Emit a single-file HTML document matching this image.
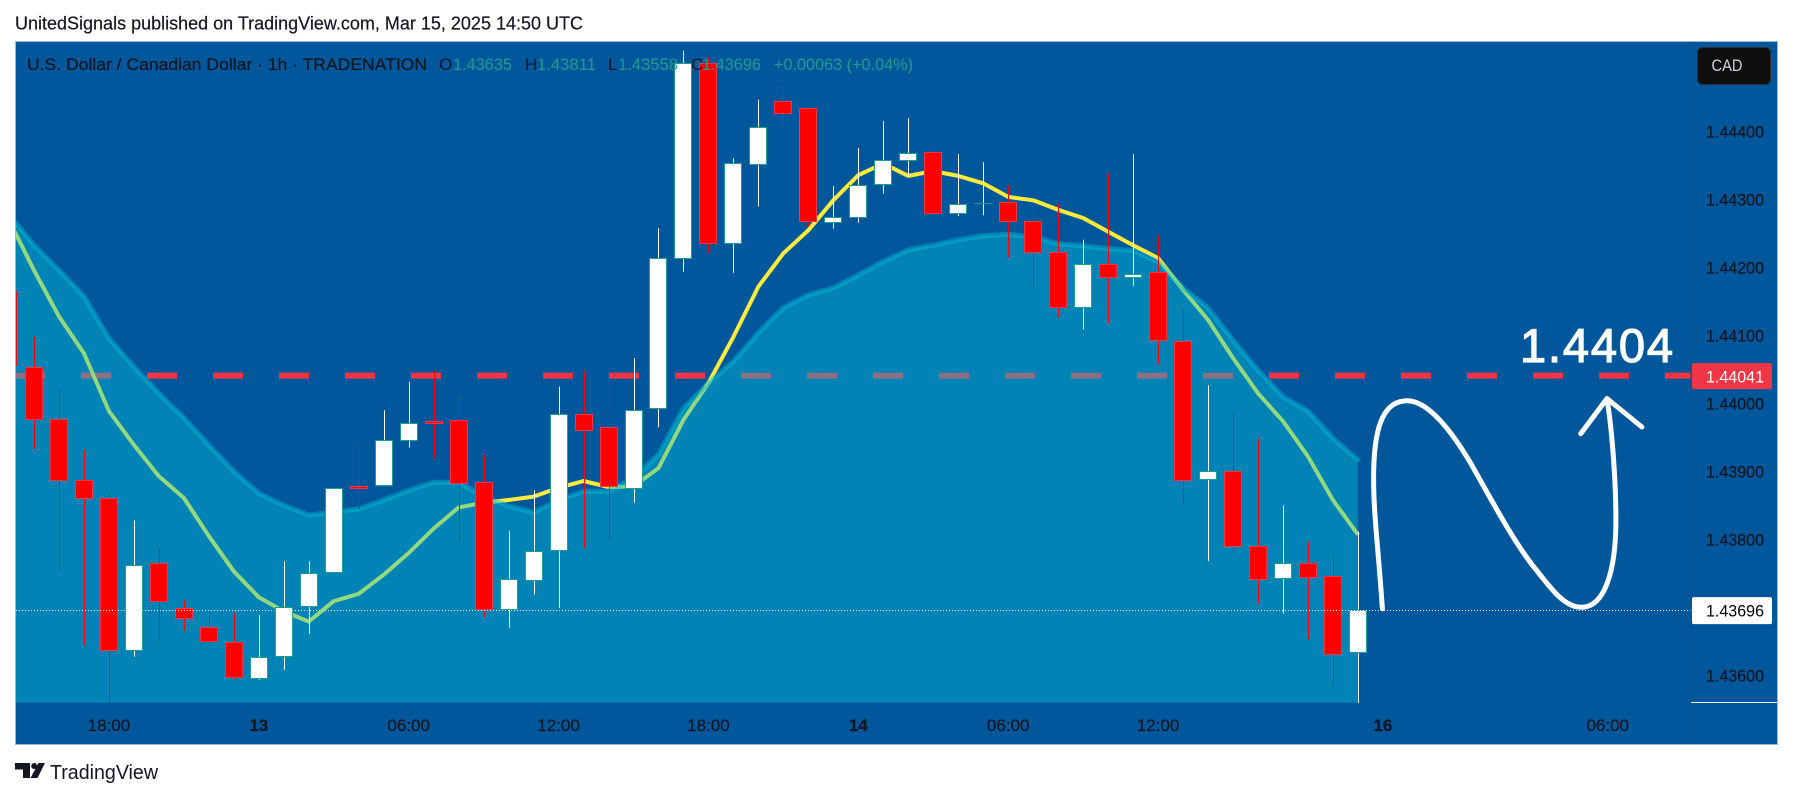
<!DOCTYPE html>
<html lang="en">
<head>
<meta charset="utf-8">
<title>USD/CAD 1h chart</title>
<style>
html,body{margin:0;padding:0;background:#fff;width:1793px;height:798px;overflow:hidden}
svg{display:block}
text{font-family:"Liberation Sans",sans-serif}
</style>
</head>
<body>
<svg id="chart" xmlns="http://www.w3.org/2000/svg" width="1793" height="798" viewBox="0 0 1793 798">
  <defs>
    <clipPath id="plot-clip"><rect x="16" y="42" width="1675" height="661"></rect></clipPath>
  </defs>
  <text x="15" y="29.5" font-size="18" fill="#131722" stroke="#131722" stroke-width="0.2" textLength="568" lengthAdjust="spacingAndGlyphs">UnitedSignals published on TradingView.com, Mar 15, 2025 14:50 UTC</text>
  <rect x="15.5" y="41.5" width="1762" height="703" fill="#01579b" stroke="#9db7d3" stroke-width="1"></rect>
  <g id="plot-under" clip-path="url(#plot-clip)"></g>
  <g id="candles" clip-path="url(#plot-clip)"></g>
  <g id="overlays"></g>
  <g fill="none" stroke="#ffffff" stroke-width="5" stroke-linecap="round" stroke-linejoin="round">
    <path d="M1382.4,608.7 C1378,545 1373.6,515 1373.6,478 C1373.6,430 1382,400.7 1407.3,400.7 C1430,400.7 1455,437 1470,462 C1490,497 1515,545 1537.4,571.3 C1552,590 1565,607.3 1581.4,607.3 C1605,607.3 1615.9,570 1615.9,520 C1615.9,480 1612,430 1607.1,399.7"></path>
    <path d="M1580.7,433.7 L1607,398.5 L1641.9,427"></path>
  </g>
  <text x="1520" y="362" font-size="47" fill="#ffffff" stroke="#ffffff" stroke-width="1.2" textLength="153" lengthAdjust="spacing">1.4404</text>
  <line x1="1691" y1="42" x2="1691" y2="744" stroke="#02508f" stroke-width="1"></line>
  <line x1="1691" y1="702.5" x2="1777" y2="702.5" stroke="#ffffff" stroke-width="1"></line>
  <g id="price-axis"></g>
  <g id="time-axis"></g>
  <g font-size="17">
    <text x="27" y="70" fill="#131722" stroke="#131722" stroke-width="0.25" textLength="400" lengthAdjust="spacingAndGlyphs">U.S. Dollar / Canadian Dollar · 1h · TRADENATION</text>
    <text x="439" y="70" fill="#131722">O</text>
    <text x="453" y="70" fill="#1f9d8f" textLength="59" lengthAdjust="spacingAndGlyphs">1.43635</text>
    <text x="525" y="70" fill="#131722">H</text>
    <text x="537" y="70" fill="#1f9d8f" textLength="59" lengthAdjust="spacingAndGlyphs">1.43811</text>
    <text x="608" y="70" fill="#131722">L</text>
    <text x="618" y="70" fill="#1f9d8f" textLength="60" lengthAdjust="spacingAndGlyphs">1.43558</text>
    <text x="691" y="70" fill="#131722">C</text>
    <text x="702" y="70" fill="#1f9d8f" textLength="59" lengthAdjust="spacingAndGlyphs">1.43696</text>
    <text x="774" y="70" fill="#1f9d8f" textLength="139" lengthAdjust="spacingAndGlyphs">+0.00063 (+0.04%)</text>
  </g>
  <g>
    <rect x="1697.5" y="47.5" width="73" height="37" rx="5" fill="#0f0f0f" stroke="#2a2e39" stroke-width="1"></rect>
    <text x="1711.5" y="71" font-size="17" fill="#d1d4dc" textLength="31" lengthAdjust="spacingAndGlyphs">CAD</text>
  </g>
  <g>
    <path fill="#131722" d="M15,763 H30 V778 H23 V769.5 H15 Z M38.5,763 H45 L37.5,778 H30.5 Z"></path>
    <circle cx="34.2" cy="766" r="3" fill="#131722"></circle>
    <text x="50" y="779" font-size="20" fill="#131722" textLength="108" lengthAdjust="spacingAndGlyphs">TradingView</text>
  </g>
</svg>
<script>
const candleOpen = [1.44165,1.44054,1.43977,1.43887,1.43861,1.43637,1.43765,1.43699,1.43671,1.43649,1.43596,1.43629,1.43702,1.43752,1.43878,1.43880,1.43947,1.43974,1.43975,1.43884,1.43697,1.43740,1.43784,1.43984,1.43965,1.43876,1.43993,1.44214,1.44501,1.44236,1.44353,1.44445,1.44435,1.44267,1.44274,1.44323,1.44359,1.44370,1.44281,1.44295,1.44296,1.44268,1.44223,1.44142,1.44205,1.44186,1.44193,1.44092,1.43889,1.43900,1.43790,1.43743,1.43766,1.43746,1.43635];
const candleHigh = [1.44165,1.44098,1.44022,1.43932,1.43869,1.43828,1.43787,1.43711,1.43687,1.43692,1.43689,1.43768,1.43768,1.43875,1.43937,1.43990,1.44032,1.44048,1.44013,1.43924,1.43812,1.43872,1.44025,1.44048,1.44035,1.44067,1.44258,1.44519,1.44509,1.44361,1.44447,1.44471,1.44435,1.44320,1.44376,1.44416,1.44420,1.44373,1.44367,1.44355,1.44321,1.44290,1.44294,1.44241,1.44339,1.44367,1.44247,1.44138,1.44027,1.43987,1.43948,1.43850,1.43797,1.43779,1.43811];
const candleLow = [1.44057,1.43933,1.43755,1.43644,1.43558,1.43627,1.43650,1.43665,1.43644,1.43594,1.43593,1.43608,1.43661,1.43752,1.43844,1.43880,1.43935,1.43920,1.43797,1.43686,1.43670,1.43719,1.43699,1.43787,1.43800,1.43854,1.43965,1.44194,1.44222,1.44192,1.44290,1.44410,1.44260,1.44257,1.44266,1.44309,1.44334,1.44277,1.44276,1.44277,1.44215,1.44173,1.44127,1.44109,1.44118,1.44173,1.44057,1.43853,1.43768,1.43777,1.43705,1.43691,1.43653,1.43584,1.43558];
const candleClose = [1.44057,1.43977,1.43887,1.43861,1.43637,1.43763,1.43709,1.43685,1.43650,1.43597,1.43627,1.43701,1.43751,1.43875,1.43876,1.43947,1.43972,1.43972,1.43883,1.43698,1.43741,1.43783,1.43984,1.43961,1.43878,1.43991,1.44214,1.44501,1.44236,1.44354,1.44407,1.44427,1.44268,1.44275,1.44322,1.44359,1.44369,1.44280,1.44294,1.44295,1.44268,1.44223,1.44142,1.44206,1.44186,1.44191,1.44093,1.43888,1.43900,1.43790,1.43741,1.43766,1.43744,1.43632,1.43696];
const emaFast = [1.44270,1.44196,1.44128,1.44074,1.43989,1.43939,1.43893,1.43861,1.43805,1.43753,1.43715,1.43694,1.43679,1.43709,1.43720,1.43748,1.43780,1.43816,1.43847,1.43854,1.43858,1.43863,1.43876,1.43886,1.43877,1.43878,1.43905,1.43976,1.44030,1.44098,1.44172,1.44221,1.44255,1.44299,1.44336,1.44353,1.44335,1.44342,1.44335,1.44324,1.44304,1.44299,1.44285,1.44273,1.44253,1.44233,1.44214,1.44167,1.44123,1.44067,1.44015,1.43974,1.43922,1.43858,1.43807];
const emaSlow = [1.44278,1.44233,1.44196,1.44158,1.44096,1.44054,1.44015,1.43979,1.43939,1.43900,1.43868,1.43850,1.43836,1.43840,1.43845,1.43858,1.43872,1.43884,1.43884,1.43863,1.43849,1.43840,1.43858,1.43871,1.43871,1.43890,1.43925,1.43993,1.44030,1.44062,1.44104,1.44141,1.44160,1.44170,1.44189,1.44209,1.44226,1.44233,1.44241,1.44247,1.44249,1.44245,1.44235,1.44232,1.44228,1.44225,1.44209,1.44170,1.44141,1.44093,1.44049,1.44010,1.43989,1.43949,1.43917];
const priceTicks = [1.444,1.443,1.442,1.441,1.44,1.439,1.438,1.437,1.436];
const alertPrice = 1.44041;
const lastPrice = 1.43696;
const timeTickLabels = ["18:00","13","06:00","12:00","18:00","14","06:00","12:00","16","06:00"];
const timeTickBars = [4,10,16,22,28,34,40,46,55,64];
const boldTimeLabels = ["13","14","16"];

const NS = "http://www.w3.org/2000/svg";
function xScale(i){ return 9 + 24.98 * i; }
function yScale(p){ return 131.7 + (1.444 - p) * 67950; }
function make(tag, parent, attrs){
  const el = document.createElementNS(NS, tag);
  for (const k in attrs) el.setAttribute(k, attrs[k]);
  parent.appendChild(el);
  return el;
}
function linePath(series){
  return series.map(function(p, i){ return (i ? "L" : "M") + xScale(i).toFixed(1) + "," + yScale(p).toFixed(1); }).join(" ");
}

const under = document.getElementById("plot-under");
const plotBottom = 702.7;

const alertLine = make("line", under, {x1:15, x2:1691, y1:yScale(alertPrice), y2:yScale(alertPrice), stroke:"#f23645", "stroke-width":6, "stroke-dasharray":"30 36"});



const fastLine = make("path", under, {d:linePath(emaFast), fill:"none", stroke:"#ffeb3b", "stroke-width":4, "stroke-linejoin":"round"});



const lastIdx = emaSlow.length - 1;
const slowArea = make("path", under, {d:linePath(emaSlow) + " L" + xScale(lastIdx).toFixed(1) + "," + plotBottom + " L" + xScale(0).toFixed(1) + "," + plotBottom + " Z", fill:"rgb(3,190,215)", "fill-opacity":0.433, stroke:"none"});



const slowLine = make("path", under, {d:linePath(emaSlow), fill:"none", stroke:"rgb(3,190,215)", "stroke-opacity":0.45, "stroke-width":5, "stroke-linejoin":"round", "stroke-linecap":"round"});



const candleGroup = document.getElementById("candles");
candleClose.forEach(function(close, i){
  const open = candleOpen[i];
  const up = close >= open;
  const cx = Math.round(xScale(i)) + 0.5;
  const wick = make("line", candleGroup, {x1:cx, x2:cx, y1:yScale(candleHigh[i]), y2:yScale(candleLow[i]), stroke: up ? "#ffffff" : "#ff0000", "stroke-width":1});
  
  
  const top = Math.round(yScale(Math.max(open, close))) + 0.5;
  const bottom = Math.round(yScale(Math.min(open, close))) + 0.5;
  const body = make("rect", candleGroup, {x:cx - 9, y:top, width:18 - 1, height:Math.max(bottom - top, 0.01), fill: up ? "#ffffff" : "#ff0000", stroke: up ? "#1f9d8f" : "#f23645", "stroke-width":1});
  
  
});

const overlays = document.getElementById("overlays");
const lastLine = make("line", overlays, {x1:16, x2:1691, y1:Math.round(yScale(lastPrice)) + 0.5, y2:Math.round(yScale(lastPrice)) + 0.5, stroke:"#ffffff", "stroke-width":1, "stroke-dasharray":"1 2"});



const priceAxis = document.getElementById("price-axis");
priceTicks.forEach(function(p){
  const t = make("text", priceAxis, {x:1706, y:yScale(p) + 6, "font-size":16.5, fill:"#131722", stroke:"#131722", "stroke-width":0.25, textLength:58, lengthAdjust:"spacingAndGlyphs"});
  t.textContent = p.toFixed(5);
  
  
});

const alertTag = make("rect", priceAxis, {x:1692, y:yScale(alertPrice) - 12.5, width:80, height:26, rx:2, fill:"#f23645"});


const alertText = make("text", priceAxis, {x:1706, y:yScale(alertPrice) + 7, "font-size":16.5, fill:"#ffffff", textLength:58, lengthAdjust:"spacingAndGlyphs"});
alertText.textContent = alertPrice.toFixed(5);



const lastTag = make("rect", priceAxis, {x:1692, y:yScale(lastPrice) - 13, width:80, height:27, rx:2, fill:"#ffffff"});


const lastText = make("text", priceAxis, {x:1706, y:yScale(lastPrice) + 6.5, "font-size":16.5, fill:"#000000", textLength:58, lengthAdjust:"spacingAndGlyphs"});
lastText.textContent = lastPrice.toFixed(5);



const timeAxis = document.getElementById("time-axis");
timeTickLabels.forEach(function(label, n){
  const t = make("text", timeAxis, {x:xScale(timeTickBars[n]), y:731, "font-size":17, fill:"#131722", stroke:"#131722", "stroke-width":0.25, "text-anchor":"middle", "font-weight": boldTimeLabels.indexOf(label) >= 0 ? "bold" : "normal"});
  t.textContent = label;
  
  
});
</script>
</body>
</html>
